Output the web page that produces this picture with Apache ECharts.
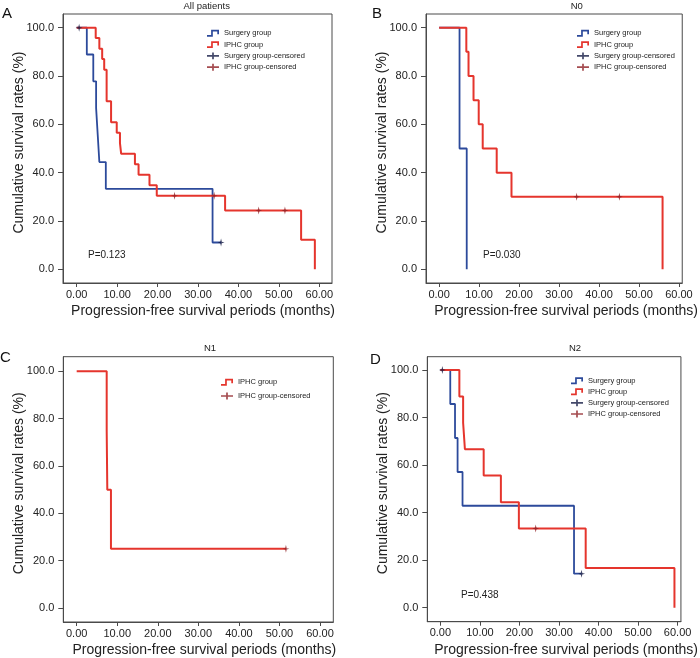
<!DOCTYPE html>
<html><head><meta charset="utf-8">
<script src="https://cdn.jsdelivr.net/npm/echarts@6/dist/echarts.min.js"></script>
<style>html,body{margin:0;padding:0;background:#fff}#c{width:700px;height:658px}</style>
</head><body><div id="c"></div>
<script>
// ---- tick labels ----
const ticksX = [0, 10, 20, 30, 40, 50, 60];
const ticksY = [0, 20, 40, 60, 80, 100];

// ---- Panel A: All patients ----
const aSurgT = [0, 2.5, 4.1, 4.8, 5.2, 5.6, 7.2, 33.6, 35.7];
const aSurgS = [100, 88.9, 77.8, 66.7, 55.6, 44.4, 33.3, 11.1, 11.1];
const aSurgCensT = [0.6, 35.7];
const aSurgCensS = [100, 11.1];
const aIphcT = [0, 4.7, 5.6, 6.3, 6.8, 7.4, 8.5, 9.9, 10.7, 11.0, 14.4, 15.3, 18.0, 19.8, 36.7, 55.5, 58.9];
const aIphcS = [100, 95.7, 91.3, 87.0, 82.6, 69.6, 60.9, 56.5, 52.2, 47.8, 43.5, 39.1, 34.8, 30.4, 24.3, 12.2, 0];
const aIphcCensT = [24.2, 34.0, 45.0, 51.5];
const aIphcCensS = [30.4, 30.4, 24.3, 24.3];

// ---- Panel B: N0 ----
const bSurgT = [0, 5.1, 6.9];
const bSurgS = [100, 50, 0];
const bIphcT = [0, 6.8, 7.35, 8.6, 9.9, 10.9, 14.4, 18.1, 55.9];
const bIphcS = [100, 90, 80, 70, 60, 50, 40, 30, 0];
const bIphcCensT = [34.4, 45.1];
const bIphcCensS = [30, 30];

// ---- Panel C: N1 ----
const cIphcT = [0, 7.4, 7.55, 8.45, 51.6];
const cIphcS = [100, 75, 50, 25, 25];
const cIphcCensT = [51.6];
const cIphcCensS = [25];

// ---- Panel D: N2 ----
const dSurgT = [0, 2.5, 3.7, 4.35, 5.6, 33.8, 35.7];
const dSurgS = [100, 85.7, 71.4, 57.1, 42.9, 14.3, 14.3];
const dSurgCensT = [0.5, 35.7];
const dSurgCensS = [100, 14.3];
const dIphcT = [0, 4.8, 5.75, 6.2, 10.95, 15.3, 19.85, 36.75, 59.2];
const dIphcS = [100, 88.9, 77.8, 66.7, 55.6, 44.4, 33.3, 16.7, 0];
const dIphcCensT = [24.1];
const dIphcCensS = [33.3];

const pValues = ['P=0.123', 'P=0.030', null, 'P=0.438'];
const titles = ['All patients', 'N0', 'N1', 'N2'];
const letters = ['A', 'B', 'C', 'D'];

const zip = (t, s) => t.map((v, i) => [v, s[i]]);

const BLUE = '#2c4a9b', RED = '#e5352d', NAVY = '#151b45', DRED = '#8e1f24';
const FRAME = '#4a4a4a', TXT = '#222';
const FONT = "'Liberation Sans', Arial, sans-serif";

// panel geometry
const panels = [
  {left: 63, top: 14, width: 269, height: 269, xmin: -3.39, xmax: 63.14, ymin: -5.67, ymax: 105.67, xnamePad: 11},
  {left: 426, top: 14, width: 259, height: 269, xmin: -3.29, xmax: 60.82, ymin: -5.67, ymax: 105.67, xnamePad: 24},
  {left: 63.3, top: 356.7, width: 270, height: 266.6, xmin: -3.3, xmax: 63.28, ymin: -5.88, ymax: 106.13, xnamePad: 12},
  {left: 427.3, top: 356.7, width: 259.4, height: 265, xmin: -3.31, xmax: 60.84, ymin: -5.89, ymax: 105.6, xnamePad: 24}
];

const grids = panels.map(p => ({left: p.left, top: p.top, width: p.width, height: p.height, show: true, borderColor: FRAME, borderWidth: 1, backgroundColor: 'transparent'}));
const xAxes = panels.map((p, i) => ({
  gridIndex: i, type: 'value', min: p.xmin, max: p.xmax,
  name: 'Progression-free survival periods (months)', nameLocation: 'middle', nameGap: 21, nameMoveOverlap: false,
  nameTextStyle: {fontSize: 14, color: TXT, fontFamily: FONT, verticalAlign: 'top', padding: [0, 0, 0, p.xnamePad]},
  axisLine: {show: true, onZero: false, lineStyle: {color: FRAME, width: 1}},
  axisTick: {show: true, length: 4, customValues: ticksX, lineStyle: {color: FRAME}},
  axisLabel: {customValues: ticksX, formatter: v => v.toFixed(2), fontSize: 11, color: TXT, fontFamily: FONT, margin: 6},
  splitLine: {show: false}
}));
const yAxes = panels.map((p, i) => ({
  gridIndex: i, type: 'value', min: p.ymin, max: p.ymax,
  name: 'Cumulative survival rates (%)', nameLocation: 'middle', nameGap: 37, nameMoveOverlap: false,
  nameTextStyle: {fontSize: 14, color: TXT, fontFamily: FONT, padding: [0, 0, 0, 12]},
  axisLine: {show: true, onZero: false, lineStyle: {color: FRAME, width: 1}},
  axisTick: {show: true, length: 5, customValues: ticksY, lineStyle: {color: FRAME}},
  axisLabel: {customValues: ticksY, formatter: v => v.toFixed(1), fontSize: 11, color: TXT, fontFamily: FONT, margin: 9},
  splitLine: {show: false}
}));

const STEP_ICON = 'path://M0,8 L0,6 L4.8,6 L4.8,0 L14,0 L14,5 L12,5 L12,2 L6.8,2 L6.8,8 Z';
const CENS_ICON = 'path://M0,3 L6,3 L6,0 L8,0 L8,3 L14,3 L14,5 L8,5 L8,8 L6,8 L6,5 L0,5 Z';
const CENS_SYM = 'path://M0,-5 L0.9,-0.9 L4,0 L0.9,0.9 L0,5 L-0.9,0.9 L-4,0 L-0.9,-0.9 Z';

function stepSeries(name, idx, t, s, color, w) {
  return {name, type: 'line', step: 'end', xAxisIndex: idx, yAxisIndex: idx, data: zip(t, s),
    showSymbol: false, symbol: 'none', lineStyle: {color, width: w}, itemStyle: {color}, animation: false, z: name.startsWith('IPHC') ? 3 : 2};
}
function censSeries(name, idx, t, s, color) {
  return {name, type: 'scatter', xAxisIndex: idx, yAxisIndex: idx, data: zip(t, s),
    symbol: CENS_SYM, symbolSize: [7, 8], itemStyle: {color}, animation: false, z: 4};
}

const series = [
  stepSeries('Surgery group', 0, aSurgT, aSurgS, BLUE, 1.8),
  stepSeries('IPHC group', 0, aIphcT, aIphcS, RED, 2),
  censSeries('Surgery group-censored', 0, aSurgCensT, aSurgCensS, NAVY),
  censSeries('IPHC group-censored', 0, aIphcCensT, aIphcCensS, DRED),
  stepSeries('Surgery group', 1, bSurgT, bSurgS, BLUE, 1.8),
  stepSeries('IPHC group', 1, bIphcT, bIphcS, RED, 2),
  censSeries('IPHC group-censored', 1, bIphcCensT, bIphcCensS, DRED),
  stepSeries('IPHC group', 2, cIphcT, cIphcS, RED, 2),
  censSeries('IPHC group-censored', 2, cIphcCensT, cIphcCensS, DRED),
  stepSeries('Surgery group', 3, dSurgT, dSurgS, BLUE, 1.8),
  stepSeries('IPHC group', 3, dIphcT, dIphcS, RED, 2),
  censSeries('Surgery group-censored', 3, dSurgCensT, dSurgCensS, NAVY),
  censSeries('IPHC group-censored', 3, dIphcCensT, dIphcCensS, DRED)
];

const fullLegend = [
  {name: 'Surgery group', icon: STEP_ICON},
  {name: 'IPHC group', icon: STEP_ICON},
  {name: 'Surgery group-censored', icon: CENS_ICON},
  {name: 'IPHC group-censored', icon: CENS_ICON}
];
const legBase = {orient: 'vertical', padding: 0, itemWidth: 12, itemHeight: 8, itemGap: 3.3, selectedMode: false,
  itemStyle: {borderWidth: 0},
  textStyle: {fontSize: 7.5, lineHeight: 8, color: TXT, fontFamily: FONT}};
const legends = [
  Object.assign({}, legBase, {left: 207, top: 29.3, data: fullLegend}),
  Object.assign({}, legBase, {left: 577, top: 29.3, data: fullLegend}),
  Object.assign({}, legBase, {left: 221, top: 378.3, itemGap: 5.7, data: fullLegend.filter(d => d.name.startsWith('IPHC'))}),
  Object.assign({}, legBase, {left: 571, top: 376.7, itemGap: 3.1, data: fullLegend})
];

const titlePos = [[206.7, 1], [576.7, 1], [210, 343.5], [575, 343.5]];
const letterPos = [[2, 6], [372, 6], [0, 350], [370, 352]];
const pPos = [[88, 250.5], [483, 250.5], null, [461, 590]];
const titleComps = [];
titles.forEach((t, i) => titleComps.push({text: t, left: titlePos[i][0], top: titlePos[i][1], textAlign: 'center', padding: 0,
  textStyle: {fontSize: 9.5, fontWeight: 'normal', color: TXT, fontFamily: FONT}}));
letters.forEach((t, i) => titleComps.push({text: t, left: letterPos[i][0], top: letterPos[i][1], padding: 0,
  textStyle: {fontSize: 15, fontWeight: 'normal', color: '#111', fontFamily: FONT}}));
pValues.forEach((t, i) => { if (t) titleComps.push({text: t, left: pPos[i][0], top: pPos[i][1], padding: 0,
  textStyle: {fontSize: 10, fontWeight: 'normal', color: TXT, fontFamily: FONT}}); });

const chart = echarts.init(document.getElementById('c'), null, {renderer: 'canvas'});
chart.setOption({
  animation: false,
  backgroundColor: '#fff',
  title: titleComps,
  legend: legends,
  grid: grids,
  xAxis: xAxes,
  yAxis: yAxes,
  series: series
});
</script></body></html>
